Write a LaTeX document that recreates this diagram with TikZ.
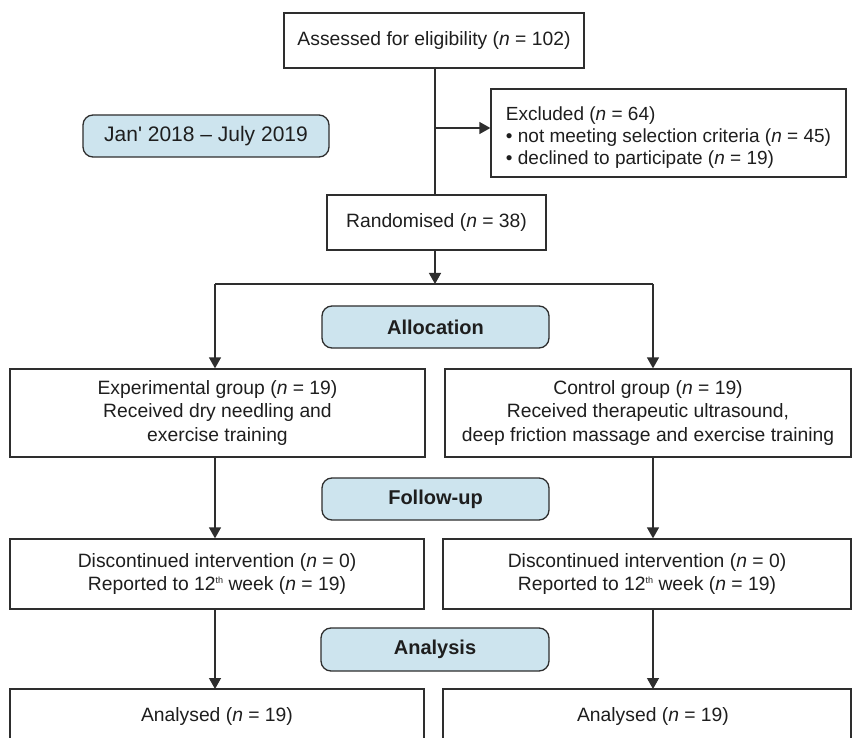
\documentclass[tikz,border=0pt]{standalone}
\usepackage{fontspec}
\setmainfont{Liberation Sans}
\usetikzlibrary{arrows.meta}
\definecolor{lineg}{HTML}{2E2E2E}
\definecolor{txt}{HTML}{1E1E1E}
\definecolor{hdfill}{HTML}{CDE4EE}
\newcommand{\nn}{\textit{n}}
\newcommand{\thsup}{\raisebox{0.75ex}{\fontsize{9}{9}\selectfont th}}
\begin{document}
\begin{tikzpicture}[x=1pt,y=-1pt,
  every node/.style={text=txt, font=\fontsize{19.3}{23.5}\selectfont},
  flowbox/.style={draw=lineg, line width=1.3pt, fill=white, align=center, inner sep=0pt},
  hdbox/.style={draw=lineg, line width=1.3pt, fill=hdfill, rounded corners=10pt, align=center, inner sep=0pt, font=\fontsize{20}{24}\selectfont\bfseries},
  conn/.style={draw=lineg, line width=1.3pt},
  arr/.style={conn, -{Triangle[width=12pt,length=11pt]}}
]
\useasboundingbox (0,0) rectangle (852,738);
\fill[white] (0,0) rectangle (852,738);

\node[flowbox, minimum width=300pt, minimum height=55pt] (assess) at (434,40.5) {Assessed for eligibility (\nn{} = 102)};
\node[flowbox, minimum width=355pt, minimum height=88pt, align=left, font=\fontsize{19}{22}\selectfont] (excl) at (668.5,133)
  {\rule{0pt}{22pt}Excluded (\nn{} = 64)\\ \textbullet{} not meeting selection criteria (\nn{} = 45)\\ \textbullet{} declined to participate (\nn{} = 19)};
\node[hdbox, minimum width=246pt, minimum height=42pt, font=\fontsize{21}{24}\selectfont] (date) at (206,136) {Jan\textquotesingle{} 2018 -- July 2019};
\node[flowbox, minimum width=219pt, minimum height=55pt] (rand) at (436.5,222.5) {Randomised (\nn{} = 38)};
\node[hdbox, minimum width=227pt, minimum height=42pt] (alloc) at (435.5,327) {Allocation};
\node[flowbox, minimum width=415pt, minimum height=88pt] (exp) at (217.5,413) {Experimental group (\nn{} = 19)\\Received dry needling and\\exercise training};
\node[flowbox, minimum width=406pt, minimum height=88pt] (ctrl) at (648,413) {Control group (\nn{} = 19)\\Received therapeutic ultrasound,\\deep friction massage and exercise training};
\node[hdbox, minimum width=227pt, minimum height=42pt] (follow) at (435.5,499) {Follow-up};
\node[flowbox, minimum width=414pt, minimum height=70pt] (disc1) at (217,574) {Discontinued intervention (\nn{} = 0)\\Reported to 12\thsup{} week (\nn{} = 19)};
\node[flowbox, minimum width=408pt, minimum height=70pt] (disc2) at (647,574) {Discontinued intervention (\nn{} = 0)\\Reported to 12\thsup{} week (\nn{} = 19)};
\node[hdbox, minimum width=228pt, minimum height=43pt] (analysis) at (435,649.5) {Analysis};

% analysed boxes (cut off at bottom)
\draw[conn] (10,745) -- (10,689) -- (424,689) -- (424,745);
\draw[conn] (443,745) -- (443,689) -- (851,689) -- (851,745);
\node (an1) at (217,717) {Analysed (\nn{} = 19)};
\node (an2) at (653,717) {Analysed (\nn{} = 19)};
\coordinate (an1top) at (215,689);
\coordinate (an2top) at (653,689);

% connectors
\coordinate (exclpt) at (435,128);
\draw[conn] (assess.south -| exclpt) -- (rand.north -| exclpt);
\draw[arr] (exclpt) -- (exclpt -| excl.west);
\coordinate (split) at (435,284);
\coordinate (sl) at (215,284);
\coordinate (sr) at (653,284);
\draw[arr] (rand.south -| split) -- (split);
\draw[conn] (sl) -- (sr);
\draw[arr] (sl) -- (exp.north -| sl);
\draw[arr] (sr) -- (ctrl.north -| sr);
\draw[arr] (exp.south -| sl) -- (disc1.north -| sl);
\draw[arr] (ctrl.south -| sr) -- (disc2.north -| sr);
\draw[arr] (disc1.south -| sl) -- (an1top);
\draw[arr] (disc2.south -| sr) -- (an2top);
\end{tikzpicture}
\end{document}
